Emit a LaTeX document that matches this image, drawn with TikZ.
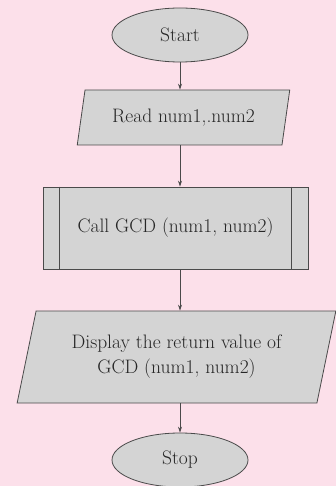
\documentclass[tikz,border=0pt]{standalone}
\usetikzlibrary{shapes.geometric,arrows.meta}
\definecolor{bgpink}{HTML}{FCE0EA}
\definecolor{boxgray}{HTML}{D4D4D4}
\definecolor{linegray}{HTML}{4A4A4A}
\begin{document}
\begin{tikzpicture}[x=1pt,y=-1pt,
  every node/.style={font=\fontsize{19.5}{25}\selectfont, text=black!85},
  term/.style={ellipse, draw=linegray, fill=boxgray, line width=0.8pt, minimum width=136pt, minimum height=54pt, inner sep=0pt},
  io/.style={trapezium, trapezium left angle=72, trapezium right angle=108, draw=linegray, fill=boxgray, line width=0.8pt, inner sep=0pt, align=center},
  proc/.style={rectangle, draw=linegray, fill=boxgray, line width=0.8pt, inner sep=0pt, align=center},
  conn/.style={draw=linegray, line width=0.7pt, -{Stealth[length=6pt,width=4pt]}}]
\fill[bgpink] (0,0) rectangle (336,486);
\useasboundingbox (0,0) rectangle (336,486);
\node[term] (start) at (180,35) {Start};
\node[io, minimum width=213pt, minimum height=55pt, trapezium stretches=true] (read) at (183.5,117.5) {Read num1,.num2};
\node[proc, minimum width=265pt, minimum height=82pt] (call) at (175.5,228) {Call GCD (num1, num2)};
\draw[linegray, line width=0.8pt] ([xshift=17pt]call.north west) -- ([xshift=17pt]call.south west);
\draw[linegray, line width=0.8pt] ([xshift=-17pt]call.north east) -- ([xshift=-17pt]call.south east);
\node[io, minimum width=319pt, minimum height=92pt, trapezium stretches=true] (disp) at (176.5,357) {Display the return value of\\GCD (num1, num2)};
\node[term] (stop) at (180,460) {Stop};
\draw[conn] (start.south) -- (read.north -| start.south);
\draw[conn] (read.south -| start.south) -- (call.north -| start.south);
\draw[conn] (call.south -| start.south) -- (disp.north -| start.south);
\draw[conn] (disp.south -| start.south) -- (stop.north);
\end{tikzpicture}
\end{document}
